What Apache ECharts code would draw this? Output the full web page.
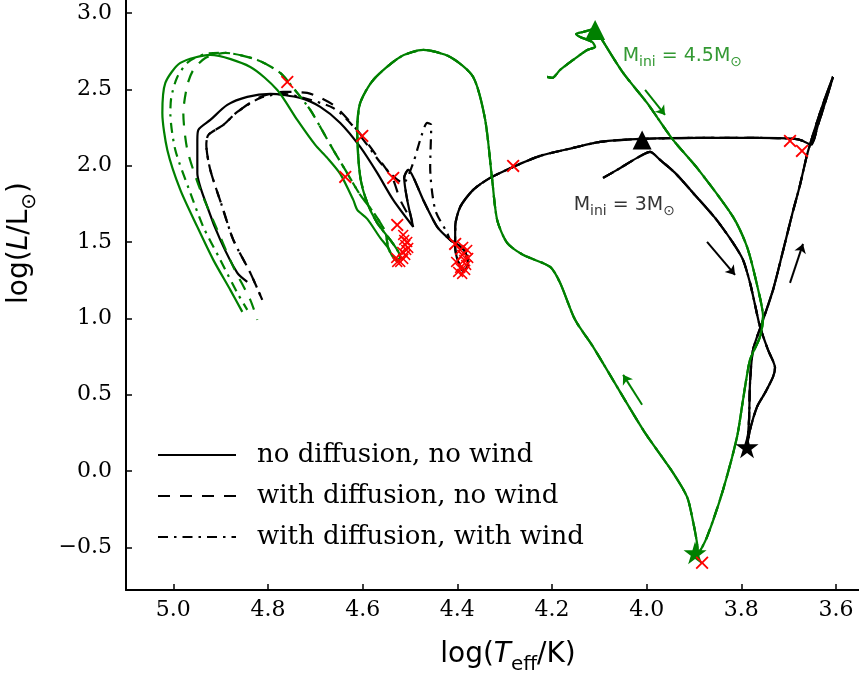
<!DOCTYPE html>
<html><head><meta charset="utf-8">
<script src="https://cdn.jsdelivr.net/npm/echarts@6/dist/echarts.min.js"></script>
<style>html,body{margin:0;padding:0;background:#fff}#c{width:859px;height:675px}</style>
</head><body><div id="c"></div>
<script>
// ---- tick labels ----
const xTicks = [5.0, 4.8, 4.6, 4.4, 4.2, 4.0, 3.8, 3.6];
const yTicks = [-0.5, 0.0, 0.5, 1.0, 1.5, 2.0, 2.5, 3.0];
const legendNames = ['no diffusion, no wind', 'with diffusion, no wind', 'with diffusion, with wind'];

// ---- 4.5 Msun track (green): common part ----
const greenCommon = [[4.2103,2.5808],[4.1998,2.5743],[4.1829,2.6267],[4.1554,2.6922],[4.1258,2.7577],[4.1090,2.7773],[4.1153,2.8101],[4.1406,2.8428],[4.1491,2.8624],[4.1343,2.8755],[4.1090,2.8950],[4.0942,2.8231],[4.0498,2.6070],[3.9992,2.4106],[3.9443,2.1683],[3.8936,1.9849],[3.8176,1.6640],[3.7880,1.4675],[3.7669,1.2187],[3.7542,1.0091],[3.7606,0.8782],[3.7817,0.7275],[3.7965,0.4656],[3.8091,0.2233],[3.8387,-0.1238],[3.8725,-0.4316],[3.8915,-0.5364],[3.8936,-0.4709],[3.9041,-0.3006],[3.9147,-0.1697],[3.9443,-0.0125],[4.0076,0.2691],[4.1132,0.8127],[4.1512,0.9895],[4.1829,1.2318],[4.2040,1.3366],[4.2610,1.4152],[4.2948,1.4937],[4.3159,1.6444],[4.3264,1.9063],[4.3412,2.2992],[4.3666,2.5808],[4.4151,2.7118],[4.4721,2.7577],[4.5207,2.7118],[4.5777,2.5612],[4.6052,2.4106],[4.6115,2.2338],[4.6052,1.9260],[4.5904,1.7557],[4.5693,1.6247],[4.5418,1.5134],[4.5270,1.4479],[4.5207,1.4021],[4.5270,1.3759],[4.5376,1.4086],[4.5460,1.4610]];
const greenSolidTail = [[4.5629,1.5265],[4.5904,1.6509],[4.6115,1.7099],[4.6199,1.7753],[4.6474,1.9456],[4.6748,2.0504],[4.7002,2.1355],[4.7382,2.2992],[4.7804,2.4957],[4.8374,2.6463],[4.9219,2.7249],[4.9852,2.6725],[5.0169,2.5415],[5.0232,2.3451],[5.0127,2.1028],[4.9852,1.8408],[4.9493,1.5985],[4.9156,1.3824],[4.8797,1.1859],[4.8543,1.0419]];
const greenBranch = [[4.5524,1.5658],[4.5735,1.6771],[4.6052,1.8081],[4.6368,1.9718],[4.6622,2.1028],[4.6896,2.2534],[4.7107,2.3647],[4.7382,2.4761],[4.7741,2.6070],[4.8226,2.6922],[4.8902,2.7380]];
const greenDashedLeft = [[4.9324,2.7053],[4.9578,2.6267],[4.9704,2.5285],[4.9789,2.3451],[4.9704,2.1028],[4.9430,1.8408],[4.9071,1.5789],[4.8733,1.3366],[4.8374,1.1205],[4.8226,0.9895]];
const greenDashDotLeft = [[4.9324,2.7315],[4.9683,2.6791],[4.9916,2.5808],[5.0042,2.4499],[5.0063,2.3451],[4.9958,2.1028],[4.9641,1.8212],[4.9367,1.5985],[4.9008,1.3824],[4.8649,1.1663],[4.8438,1.0550]];

// ---- 3 Msun track (black): common part ----
const blackCommon = [[4.0921,1.9194],[4.0625,1.9718],[4.0203,2.0504],[3.9928,2.0897],[3.9717,2.0373],[3.9400,1.9522],[3.9020,1.8212],[3.8556,1.6575],[3.8176,1.4937],[3.7965,1.3824],[3.7817,1.2318],[3.7711,1.0877],[3.7606,0.9436],[3.7437,0.7930],[3.7289,0.6751],[3.7331,0.6162],[3.7500,0.5114],[3.7669,0.4197],[3.7817,0.2691],[3.7880,0.1578],[3.7838,0.3346],[3.7817,0.5769],[3.7753,0.7930],[3.7563,0.9698],[3.7331,1.1859],[3.7141,1.4152],[3.6930,1.6771],[3.6761,1.8736],[3.6613,2.0700],[3.6487,2.2010],[3.6339,2.3451],[3.6191,2.4761],[3.6064,2.5808],[3.6212,2.4302],[3.6381,2.2665],[3.6529,2.1355],[3.6698,2.1617],[3.6867,2.1748],[3.7606,2.1814],[3.8873,2.1814],[4.0097,2.1748],[4.0984,2.1552],[4.1554,2.1159],[4.2251,2.0635],[4.2821,1.9915],[4.3307,1.9194],[4.3666,1.8408],[4.3940,1.7295],[4.4046,1.5985],[4.4046,1.4675],[4.3982,1.3693],[4.3877,1.3104],[4.3771,1.3497],[4.3835,1.4348],[4.3982,1.4806],[4.4151,1.5134]];
const blackSolidTail = [[4.4426,1.5985],[4.4721,1.7753],[4.4933,1.9260],[4.5038,1.9718],[4.5123,1.9194],[4.5059,1.7753],[4.4933,1.5985],[4.5355,1.7753],[4.5693,1.9522],[4.6052,2.1224],[4.6474,2.2796],[4.6896,2.3844],[4.7318,2.4433],[4.7952,2.4695],[4.8438,2.4499],[4.8860,2.3975],[4.9219,2.2992],[4.9472,2.2338],[4.9493,2.1683],[4.9493,1.9522],[4.9282,1.7295],[4.9008,1.5134],[4.8649,1.2973],[4.8438,1.2384]];
const blackDashedTail = [[4.4426,1.5985],[4.4721,1.7753],[4.4933,1.9260],[4.5038,1.9718],[4.5123,1.9194],[4.5059,1.7753],[4.4954,1.6313],[4.5207,1.7753],[4.5355,1.9063],[4.5566,2.0045],[4.5904,2.1486],[4.6263,2.2862],[4.6622,2.3975],[4.7171,2.4761],[4.7677,2.4826],[4.8163,2.4499],[4.8649,2.3516],[4.8944,2.2665],[4.9261,2.2010],[4.9303,2.1355],[4.9219,1.9718],[4.8966,1.7295],[4.8733,1.5134],[4.8374,1.2973],[4.8121,1.1205]];
const blackDashDotTail = [[4.4215,1.5592],[4.4468,1.7099],[4.4574,1.9915],[4.4552,2.2665],[4.4637,2.2796],[4.4785,2.1683],[4.4933,2.0176],[4.5144,1.8867],[4.5566,1.9980],[4.5904,2.1355],[4.6263,2.2796],[4.6622,2.3778],[4.7318,2.4499],[4.7677,2.4695],[4.8163,2.4433],[4.8649,2.3516],[4.8944,2.2665],[4.9261,2.2010],[4.9303,2.1355],[4.9219,1.9718],[4.8966,1.7295],[4.8733,1.5134],[4.8374,1.2973],[4.8121,1.1205]];

// ---- markers ----
const redCrosses = [[4.7593,2.5481],[4.6368,1.9260],[4.6009,2.1945],[4.5355,1.9194],[4.5270,1.6116],[4.2821,1.9980],[3.6972,2.1617],[3.6719,2.0962],[3.8830,-0.6019],[4.4046,1.4872]];
const greenCluster = [[4.5144,1.5461],[4.5123,1.5134],[4.5101,1.4806],[4.5080,1.4479],[4.5101,1.4152],[4.5144,1.3890],[4.5207,1.3693],[4.5270,1.3693],[4.5291,1.3955],[4.5059,1.5003],[4.5038,1.4610],[4.5165,1.4348]];
const blackCluster = [[4.3940,1.4479],[4.3898,1.4152],[4.3856,1.3824],[4.3814,1.3497],[4.3835,1.3169],[4.3898,1.2907],[4.3982,1.3038],[4.4025,1.3693],[4.3771,1.3955],[4.3792,1.4479],[4.3877,1.4675],[4.3940,1.3300]];
const greenTriangle = [[4.1090, 2.8886]];
const blackTriangle = [[4.0097, 2.1683]];
const greenStar = [[3.8978, -0.5364]];
const blackStar = [[3.7880, 0.1578]];
const greenArrows = [[[4.0034,2.4957],[3.9612,2.3320]], [[4.0097,0.4329],[4.0498,0.6293]]];
const blackArrows = [[[3.8725,1.5003],[3.8133,1.2842]], [[3.6972,1.2318],[3.6698,1.4872]]];
const greenLabelPos = [[4.0519, 2.7053]];
const blackLabelPos = [[4.1554, 1.7278]];

const GREEN = '#008000', BLACK = '#000000', RED = '#ff0000';
const DASH = [12, 10], DASHDOT = [10, 6, 2.5, 6];
const crossPath = 'path://M1,0L5,4L9,0L10,1L6,5L10,9L9,10L5,6L1,10L0,9L4,5L0,1Z';
const starPath = 'path://M50,0L61,35L98,35L68,57L79,91L50,70L21,91L32,57L2,35L39,35Z';

function track(name, data, color, type, z) {
  return { name, type: 'line', data, symbol: 'none', smooth: 0.25, z: z || 2,
    lineStyle: { color, width: 2.2, type }, itemStyle: { color }, animation: false, silent: true };
}
function marks(data, symbol, size, color, z) {
  return { type: 'scatter', data, symbol, symbolSize: size, itemStyle: { color, opacity: 1 }, z: z || 5, animation: false, silent: true };
}
function arrows(list, color) {
  return { type: 'lines', coordinateSystem: 'cartesian2d', z: 4, animation: false, silent: true,
    symbol: ['none', 'arrow'], symbolSize: [0, 9],
    lineStyle: { color, width: 2, opacity: 1 },
    data: list.map(c => ({ coords: c })) };
}
const subRich = (color, size) => ({
  n: { color, fontSize: size, fontFamily: 'DejaVu Sans', padding: [0, 0, 4, 0], verticalAlign: 'bottom' },
  s: { color, fontSize: Math.round(size * 0.72), fontFamily: 'DejaVu Sans', verticalAlign: 'bottom' }
});
function textMark(pos, text, color) {
  return { type: 'scatter', data: pos, symbolSize: 1, itemStyle: { color: 'rgba(0,0,0,0)' }, z: 6, animation: false, silent: true,
    label: { show: true, position: 'right', distance: 0, formatter: text, rich: subRich(color, 19) } };
}

const axisFont = { fontFamily: 'DejaVu Serif', fontSize: 22, color: '#000' };
const NF = 28;
const nameRich = {
  n: { fontSize: NF, fontFamily: 'DejaVu Sans', color: '#000', padding: [0, 0, 6, 0], verticalAlign: 'bottom' },
  i: { fontSize: NF, fontFamily: 'DejaVu Sans', fontStyle: 'italic', color: '#000', padding: [0, 0, 6, 0], verticalAlign: 'bottom' },
  s: { fontSize: 20, fontFamily: 'DejaVu Sans', color: '#000', verticalAlign: 'bottom' }
};

const option = {
  backgroundColor: '#fff',
  animation: false,
  grid: { left: 126, right: -31, top: -104, bottom: 85, outerBoundsMode: 'none', containLabel: false },
  xAxis: {
    type: 'value', inverse: true, min: 3.486, max: 5.1,
    axisLine: { show: true, onZero: false, lineStyle: { color: '#000', width: 2 } },
    axisTick: { show: true, inside: true, length: 6, lineStyle: { color: '#000', width: 1.5 }, customValues: xTicks },
    axisLabel: { ...axisFont, margin: 9, customValues: xTicks, formatter: v => v.toFixed(1) },
    splitLine: { show: false },
    name: '{n|log(}{i|T}{s|eff}{n|/K)}', nameLocation: 'middle', nameGap: 51,
    nameTextStyle: { rich: nameRich }
  },
  yAxis: {
    type: 'value', min: -0.78, max: 3.766,
    axisLine: { show: true, onZero: false, lineStyle: { color: '#000', width: 2 } },
    axisTick: { show: true, inside: true, length: 6, lineStyle: { color: '#000', width: 1.5 }, customValues: yTicks },
    axisLabel: { ...axisFont, margin: 14, customValues: yTicks, formatter: v => (v < 0 ? '\u2212' + Math.abs(v).toFixed(1) : v.toFixed(1)) },
    splitLine: { show: false },
    name: '{n|log(}{i|L}{n|/L}{s|\u2299}{n|)}', nameLocation: 'middle', nameGap: 86,
    nameTextStyle: { rich: nameRich }
  },
  legend: {
    data: legendNames, orient: 'vertical', left: 152, top: 435,
    itemWidth: 78, itemHeight: 14, itemGap: 11,
    itemStyle: { opacity: 0 },
    textStyle: { fontFamily: 'DejaVu Serif', fontSize: 26, color: '#000', padding: [0, 0, 0, 16], lineHeight: 30 },
    selectedMode: false
  },
  series: [
    track(legendNames[1], blackCommon.concat(blackDashedTail), BLACK, DASH),
    track(legendNames[2], blackCommon.concat(blackDashDotTail), BLACK, DASHDOT),
    track(legendNames[0], blackCommon.concat(blackSolidTail), BLACK, 'solid'),
    track('g-dash', greenCommon.concat(greenBranch, greenDashedLeft), GREEN, DASH, 3),
    track('g-dashdot', greenCommon.concat(greenBranch, greenDashDotLeft), GREEN, DASHDOT, 3),
    track('g-solid', greenCommon.concat(greenSolidTail), GREEN, 'solid', 3),
    arrows(greenArrows, GREEN),
    arrows(blackArrows, BLACK),
    marks(redCrosses, crossPath, 13, RED, 7),
    marks(greenCluster, crossPath, 11, RED, 7),
    marks(blackCluster, crossPath, 11, RED, 7),
    marks(greenTriangle, 'triangle', 20, GREEN, 6),
    marks(blackTriangle, 'triangle', 19, BLACK, 6),
    marks(greenStar, starPath, 23, GREEN, 6),
    marks(blackStar, starPath, 23, BLACK, 6),
    textMark(greenLabelPos, '{n|M}{s|ini}{n| = 4.5M}{s|\u2299}', GREEN),
    textMark(blackLabelPos, '{n|M}{s|ini}{n| = 3M}{s|\u2299}', BLACK)
  ]
};
const chart = echarts.init(document.getElementById('c'), null, { renderer: 'canvas' });
chart.setOption(option);
</script>
</body></html>
